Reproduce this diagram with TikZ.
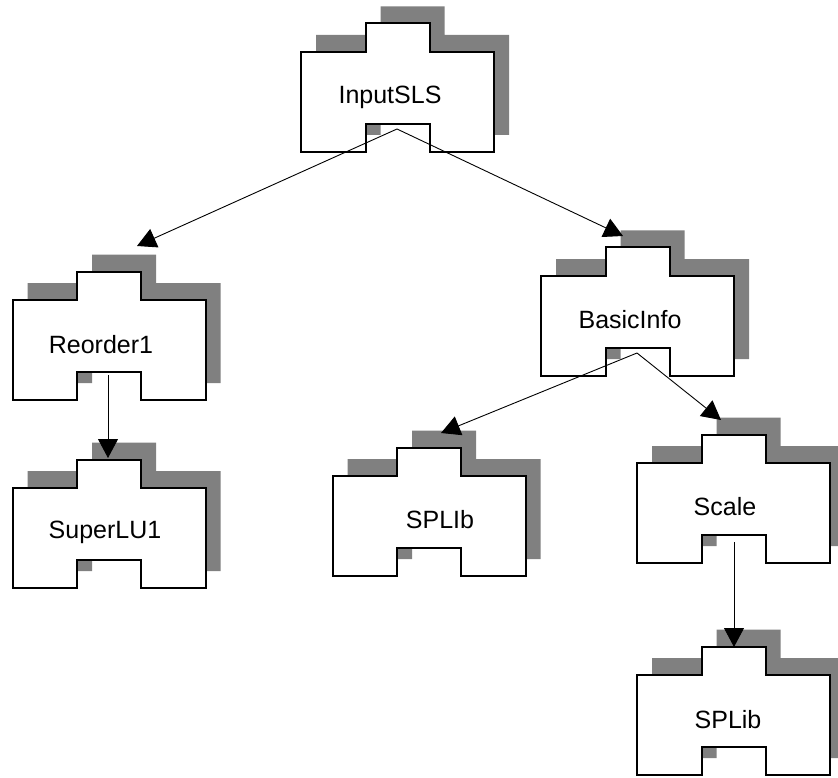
\documentclass[tikz,border=0pt]{standalone}
\usepackage{fontspec}
\setmainfont{Liberation Sans}
\usepackage{tikz}
\usetikzlibrary{arrows.meta}

\begin{document}
\begin{tikzpicture}[x=1pt,y=-1pt,
  modshape/.style={line width=2pt,fill=white,draw=black},
  modshadow/.style={fill=black!50},
  modlabel/.style={font=\fontsize{25}{30}\selectfont,inner sep=0pt},
  link/.style={line width=0.9pt,-{Triangle[width=20pt,length=19pt]}}]
  \useasboundingbox (0,0) rectangle (838,778);
  % module boxes: centre x / top of body
  \foreach \cx/\top in {397.5/52, 109/300, 637.5/276, 109/488, 429/476, 733.5/463, 733.5/675}{
    \fill[modshadow,shift={(\cx+15,\top-17)}] (-96.5,0) -- (-32,0) -- (-32,-28.5) -- (32,-28.5) -- (32,0) -- (96.5,0) -- (96.5,100) -- (32,100) -- (32,72) -- (-32,72) -- (-32,100) -- (-96.5,100) -- cycle;
    \draw[modshape,shift={(\cx,\top)}] (-96.5,0) -- (-32,0) -- (-32,-28.5) -- (32,-28.5) -- (32,0) -- (96.5,0) -- (96.5,100) -- (32,100) -- (32,72) -- (-32,72) -- (-32,100) -- (-96.5,100) -- cycle;
  }
  \node[modlabel] (inputsls) at (390,97) {InputSLS};
  \node[modlabel] (reorder) at (101,345) {Reorder1};
  \node[modlabel] (basicinfo) at (630,320) {BasicInfo};
  \node[modlabel] (superlu) at (105,532) {SuperLU1};
  \node[modlabel] (splib) at (440,520) {SPLIb};
  \node[modlabel] (scale) at (725,507) {Scale};
  \node[modlabel] (splibb) at (728,720) {SPLib};
  % connector ends
  \coordinate (inputsls-out) at (397,129);
  \coordinate (reorder-out) at (108,375);
  \coordinate (basicinfo-out) at (637,353);
  \coordinate (scale-out) at (734,542);
  \coordinate (reorder-in) at (137,246);
  \coordinate (basicinfo-in) at (623,236);
  \coordinate (superlu-in) at (108,458);
  \coordinate (splib-in) at (441,433);
  \coordinate (scale-in) at (721,420);
  \coordinate (splibb-in) at (734,647);
  \draw[link] (inputsls-out) -- (reorder-in);
  \draw[link] (inputsls-out) -- (basicinfo-in);
  \draw[link] (reorder-out) -- (superlu-in);
  \draw[link] (basicinfo-out) -- (splib-in);
  \draw[link] (basicinfo-out) -- (scale-in);
  \draw[link] (scale-out) -- (splibb-in);
\end{tikzpicture}
\end{document}
